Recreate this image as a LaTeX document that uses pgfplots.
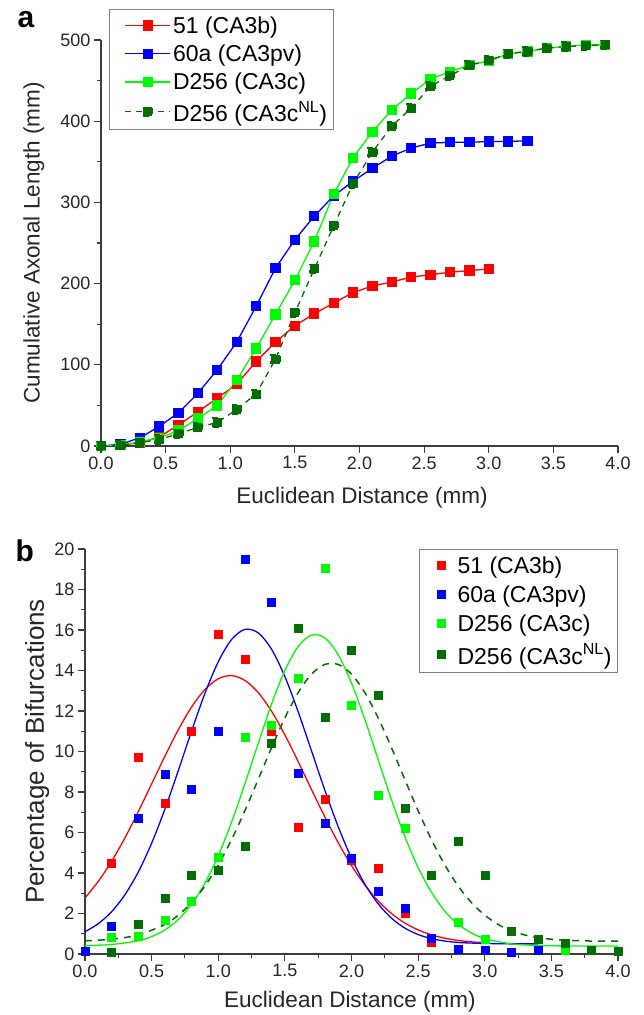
\documentclass[border=0pt]{standalone}
\usepackage{fontspec}
\setmainfont{Liberation Sans}
\usepackage{pgfplots}
\pgfplotsset{compat=1.18}
\definecolor{cred}{RGB}{255,0,0}
\definecolor{cblue}{RGB}{0,0,255}
\definecolor{cgreen}{RGB}{0,250,0}
\definecolor{cdgreen}{RGB}{0,110,0}
\definecolor{axgray}{RGB}{60,60,60}
\pgfplotsset{
  mystyle/.style={
    scale only axis,
    axis x line*=bottom, axis y line*=left,
    axis line style={axgray, line width=1.2pt},
    tick style={axgray, line width=1.1pt},
    tick align=outside,
    major tick length=7pt, minor tick length=4pt,
    /pgf/number format/assume math mode=true,
    ticklabel style={font=\fontsize{18}{18}\selectfont, text=black!85},
    label style={font=\fontsize{22.5}{22.5}\selectfont, text=black!85},
    xmin=0, xmax=4,
    xtick={0,0.5,1,1.5,2,2.5,3,3.5,4},
    xticklabel style={/pgf/number format/.cd, fixed, fixed zerofill, precision=1},
  },
  toplegimg/.style={legend image code/.code={\path[draw=none,fill=none] (0pt,0pt) -- (57pt,0pt);
    \draw[mark repeat=2,mark phase=2] plot coordinates {(12pt,0pt)(34.5pt,0pt)(57pt,0pt)};}},
  botlegimg/.style={legend image code/.code={\path[draw=none,fill=none] (0pt,0pt) -- (32pt,0pt);
    \draw[only marks] plot coordinates {(18pt,0pt)};}},
}
\begin{document}
\begin{tikzpicture}
\path[use as bounding box] (0,0) rectangle (643pt,1015pt);
% ---------------- panel a ----------------
\begin{axis}[mystyle,
  at={(101pt,569pt)}, anchor=south west,
  width=517pt, height=406pt,
  ymin=0, ymax=500, ytick={0,100,...,500}, minor y tick num=1,
  xlabel={Euclidean Distance (mm)},
  ylabel={Cumulative Axonal Length (mm)},
  xlabel style={at={(axis description cs:0.505,-0.128)}, anchor=center},
  ylabel style={at={(axis description cs:-0.13,0.5)}, anchor=center},
  legend style={at={(axis description cs:0.0155,1.076)}, anchor=north west,
    draw=gray, line width=0.8pt, font=\fontsize{23}{23}\selectfont,
    row sep=6pt, inner xsep=4pt, inner ysep=5pt},
  legend cell align=left,
  toplegimg,
  every axis plot/.append style={line width=1.3pt, mark=square*, mark size=4.5pt, mark options={solid}},
]
\addplot[cred, mark options={fill=cred}] coordinates {
(0,0)(0.15,1)(0.3,4)(0.45,11)(0.6,26)(0.75,42)(0.9,59)(1.05,76)(1.2,104)(1.35,128)(1.5,148)(1.65,163)(1.8,176)(1.95,189)(2.1,197)(2.25,202)(2.4,208)(2.55,211)(2.7,214)(2.85,216)(3.0,218)};
\addlegendentry{51 (CA3b)}
\addplot[cblue, mark options={fill=cblue}] coordinates {
(0,0)(0.15,2)(0.3,10)(0.45,24)(0.6,41)(0.75,65)(0.9,94)(1.05,128)(1.2,172)(1.35,219)(1.5,254)(1.65,283)(1.8,308)(1.95,326)(2.1,342)(2.25,357)(2.4,367)(2.55,373)(2.7,374)(2.85,374)(3.0,375)(3.15,375)(3.3,376)};
\addlegendentry{60a (CA3pv)}
\addplot[cgreen, mark options={fill=cgreen}] coordinates {
(0,0)(0.15,1)(0.3,5)(0.45,10)(0.6,19)(0.75,34)(0.9,50)(1.05,81)(1.2,120)(1.35,162)(1.5,204)(1.65,252)(1.8,310)(1.95,355)(2.1,387)(2.25,414)(2.4,434)(2.55,452)(2.7,461)(2.85,469)(3.0,474)(3.15,483)(3.3,486)(3.45,490)(3.6,492)(3.75,494)(3.9,494)};
\addlegendentry{D256 (CA3c)}
\addplot[cdgreen, dash pattern=on 6pt off 5pt, mark options={fill=cdgreen}] coordinates {
(0,0)(0.15,1)(0.3,4)(0.45,8)(0.6,15)(0.75,23)(0.9,29)(1.05,45)(1.2,64)(1.35,107)(1.5,164)(1.65,218)(1.8,271)(1.95,323)(2.1,362)(2.25,394)(2.4,416)(2.55,443)(2.7,456)(2.85,469)(3.0,475)(3.15,483)(3.3,486)(3.45,490)(3.6,492)(3.75,493)(3.9,494)};
\addlegendentry{D256 (CA3c\textsuperscript{NL})}
\end{axis}
% ---------------- panel b ----------------
\begin{axis}[mystyle,
  at={(85pt,61pt)}, anchor=south west,
  width=533pt, height=405pt,
  ymin=0, ymax=20, ytick={0,2,...,20}, minor y tick num=1, minor x tick num=1,
  xlabel={Euclidean Distance (mm)},
  ylabel={Percentage of Bifurcations},
  xlabel style={at={(axis description cs:0.497,-0.1185)}, anchor=center},
  ylabel style={at={(axis description cs:-0.09,0.5)}, anchor=center, font=\fontsize{26}{26}\selectfont},
  legend style={at={(axis description cs:1,1)}, anchor=north east,
    draw=gray, line width=0.8pt, font=\fontsize{23}{23}\selectfont,
    row sep=7pt, inner xsep=4pt, inner ysep=5pt},
  legend cell align=left,
  botlegimg,
]
\addplot[only marks, mark=square*, mark size=4pt, color=cred, fill=cred] coordinates {
(0.2,4.5)(0.4,9.7)(0.6,7.45)(0.8,11.0)(1.0,15.8)(1.2,14.55)(1.4,11.0)(1.6,6.25)(1.8,7.65)(2.0,4.65)(2.2,4.25)(2.4,2.0)(2.6,0.6)};
\addlegendentry{51 (CA3b)}
\addplot[only marks, mark=square*, mark size=4pt, color=cblue, fill=cblue] coordinates {
(0,0.15)(0.2,1.35)(0.4,6.7)(0.6,8.9)(0.8,8.15)(1.0,11.0)(1.2,19.5)(1.4,17.35)(1.6,8.95)(1.8,6.45)(2.0,4.75)(2.2,3.1)(2.4,2.25)(2.6,0.8)(2.8,0.22)(3.0,0.2)(3.2,0.1)(3.4,0.2)};
\addlegendentry{60a (CA3pv)}
\addplot[only marks, mark=square*, mark size=4pt, color=cgreen, fill=cgreen] coordinates {
(0.2,0.85)(0.4,0.9)(0.6,1.65)(0.8,2.6)(1.0,4.8)(1.2,10.7)(1.4,11.3)(1.6,13.6)(1.8,19.05)(2.0,12.3)(2.2,7.85)(2.4,6.2)(2.8,1.55)(3.0,0.75)(3.6,0.2)};
\addlegendentry{D256 (CA3c)}
\addplot[only marks, mark=square*, mark size=4pt, color=cdgreen, fill=cdgreen] coordinates {
(0.2,0.1)(0.4,1.45)(0.6,2.75)(0.8,3.9)(1.0,4.15)(1.2,5.3)(1.4,10.4)(1.6,16.1)(1.8,11.7)(2.0,15.0)(2.2,12.8)(2.4,7.2)(2.6,3.9)(2.8,5.55)(3.0,3.9)(3.2,1.15)(3.4,0.75)(3.6,0.55)(3.8,0.2)(4.0,0.15)};
\addlegendentry{D256 (CA3c\textsuperscript{NL})}
% fitted curves
\addplot[forget plot, cred, line width=1.3pt, smooth, no marks] coordinates {
(0,2.77)(0.1,3.59)(0.2,4.58)(0.3,5.74)(0.4,7.03)(0.5,8.40)(0.6,9.77)(0.7,11.07)(0.8,12.20)(0.9,13.06)(1.0,13.59)(1.1,13.75)(1.2,13.51)(1.3,12.91)(1.4,11.99)(1.5,10.82)(1.6,9.50)(1.7,8.12)(1.8,6.77)(1.9,5.50)(2.0,4.37)(2.1,3.41)(2.2,2.62)(2.3,2.00)(2.4,1.53)(2.5,1.19)(2.6,0.95)(2.7,0.78)(2.8,0.67)(2.9,0.60)(3.0,0.56)};
\addplot[forget plot, cblue, line width=1.3pt, smooth, no marks] coordinates {
(0,1.10)(0.1,1.50)(0.2,2.09)(0.3,2.93)(0.4,4.05)(0.5,5.47)(0.6,7.16)(0.7,9.05)(0.8,11.01)(0.9,12.87)(1.0,14.43)(1.1,15.53)(1.2,16.03)(1.3,15.86)(1.4,15.05)(1.5,13.70)(1.6,11.96)(1.7,10.03)(1.8,8.09)(1.9,6.29)(2.0,4.73)(2.1,3.45)(2.2,2.48)(2.3,1.77)(2.4,1.28)(2.5,0.96)(2.6,0.76)(2.7,0.64)(2.8,0.57)(2.9,0.54)(3.0,0.52)(3.2,0.50)(3.4,0.50)};
\addplot[forget plot, cgreen, line width=1.3pt, smooth, no marks] coordinates {
(0,0.41)(0.2,0.47)(0.4,0.65)(0.5,0.86)(0.6,1.19)(0.7,1.70)(0.8,2.46)(0.9,3.50)(1.0,4.85)(1.1,6.51)(1.2,8.40)(1.3,10.40)(1.4,12.34)(1.5,14.00)(1.6,15.19)(1.7,15.75)(1.8,15.61)(1.9,14.78)(2.0,13.38)(2.1,11.59)(2.2,9.60)(2.3,7.62)(2.4,5.81)(2.5,4.27)(2.6,3.05)(2.7,2.12)(2.8,1.47)(2.9,1.04)(3.0,0.76)(3.2,0.50)(3.4,0.42)(3.6,0.40)(3.8,0.40)(4.0,0.40)};
\addplot[forget plot, cdgreen, line width=1.5pt, dash pattern=on 7pt off 6pt, smooth, no marks] coordinates {
(0,0.65)(0.2,0.73)(0.4,0.94)(0.6,1.46)(0.7,1.92)(0.8,2.54)(0.9,3.36)(1.0,4.40)(1.1,5.65)(1.2,7.08)(1.3,8.62)(1.4,10.19)(1.5,11.66)(1.6,12.91)(1.7,13.82)(1.8,14.30)(1.9,14.30)(2.0,13.82)(2.1,12.91)(2.2,11.66)(2.3,10.19)(2.4,8.62)(2.5,7.08)(2.6,5.65)(2.7,4.40)(2.8,3.36)(2.9,2.54)(3.0,1.92)(3.1,1.46)(3.2,1.15)(3.3,0.94)(3.4,0.81)(3.5,0.73)(3.6,0.68)(3.8,0.64)(4.0,0.63)};
\end{axis}
\node[anchor=base west, font=\bfseries\fontsize{30}{30}\selectfont] at (14pt,987pt) {a};
\node[anchor=base west, font=\bfseries\fontsize{30}{30}\selectfont] at (12pt,453pt) {b};
\end{tikzpicture}
\end{document}
